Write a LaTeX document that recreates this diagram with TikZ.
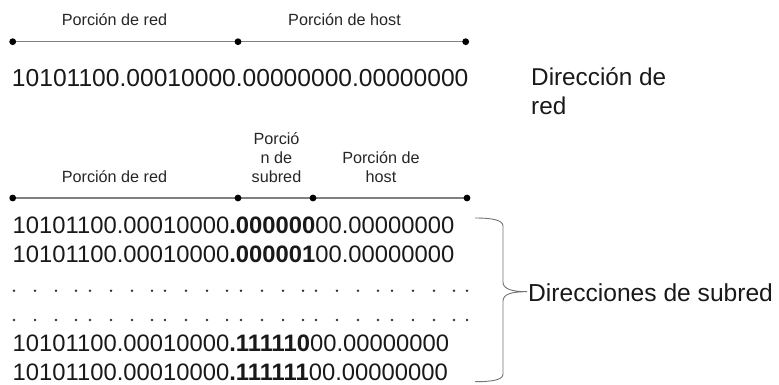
\documentclass[tikz,border=0pt]{standalone}
\usepackage{fontspec}
\setmainfont{Liberation Sans}
\begin{document}
\begin{tikzpicture}[x=1pt,y=-1pt,
  lbl/.style={inner sep=0pt,anchor=base,font=\fontsize{16.2}{19}\selectfont,text=black!85},
  big/.style={inner sep=0pt,anchor=base,font=\fontsize{24.3}{29}\selectfont,text=black!90},
  row/.style={inner sep=0pt,anchor=base west,font=\fontsize{23.8}{29}\selectfont,text=black!90},
  seg/.style={draw=black!50,line width=1.2pt},
  pt/.style={fill=black,draw=none},
  dotmark/.style={fill=black!80,draw=none},
  brace/.style={draw=black!55,line width=0.9pt}]
\useasboundingbox (0,0) rectangle (779,385);
% --- top section
\node[lbl] (pr1) at (114.5,26) {Porción de red};
\node[lbl] (ph1) at (344.5,25.5) {Porción de host};
\coordinate (a1) at (12.7,41.7);
\coordinate (b1) at (238,41.7);
\coordinate (c1) at (465.7,41.7);
\draw[seg] (a1) -- (b1) -- (c1);
\foreach \p in {a1,b1,c1} \fill[pt] (\p) circle (3.4);
\node[big,anchor=base west,font=\fontsize{24.6}{29}\selectfont] (addr) at (11.8,86.7) {10101100.00010000.00000000.00000000};
\node[big,anchor=base west] (dir1) at (531,86) {Dirección de};
\node[big,anchor=base west] (dir2) at (531,115) {red};
% --- second section
\node[lbl] (pr2) at (114.5,182.7) {Porción de red};
\node[lbl] (ps1) at (276.5,145) {Porció};
\node[lbl] (ps2) at (276.5,163.5) {n de};
\node[lbl] (ps3) at (276.5,182.7) {subred};
\node[lbl] (ph2) at (381,163.5) {Porción de};
\node[lbl] (ph3) at (381,182.7) {host};
\coordinate (a2) at (12.7,198);
\coordinate (b2) at (238,198);
\coordinate (c2) at (313,198);
\coordinate (d2) at (467,198);
\draw[seg] (a2) -- (b2) -- (c2) -- (d2);
\foreach \p in {a2,b2,c2,d2} \fill[pt] (\p) circle (3.4);
\node[row] (r1) at (12.5,233) {10101100.00010000\textbf{.000000}00.00000000};
\node[row] (r2) at (12.5,262.3) {10101100.00010000\textbf{.000001}00.00000000};
\node[row] (r5) at (12.5,351.5) {10101100.00010000\textbf{.111110}00.00000000};
\node[row] (r6) at (12.5,380.5) {10101100.00010000\textbf{.111111}00.00000000};
% dotted rows
\foreach \b in {14,90,165,241,316,392} {
  \foreach \o in {0,21,42,62} {
    \fill[dotmark] (\b+\o,290.7) circle (1.4);
    \fill[dotmark] (\b+\o,320) circle (1.4);
  }
}
\fill[dotmark] (467,290.7) circle (1.4);
\fill[dotmark] (467,320) circle (1.4);
% brace
\coordinate (bt) at (475,218);
\coordinate (bb) at (475,381.7);
\coordinate (tip) at (527,291.7);
\draw[brace] (bt) .. controls (492,218) and (503,220) .. (503,226)
  -- (503,282) .. controls (503,289) and (512,291.7) .. (tip)
  (tip) .. controls (512,291.7) and (503,294) .. (503,301)
  -- (503,374) .. controls (503,380) and (492,381.7) .. (bb);
\node[big,anchor=base west,font=\fontsize{24.6}{29}\selectfont] (dirs) at (528,301.5) {Direcciones de subred};
\end{tikzpicture}
\end{document}
